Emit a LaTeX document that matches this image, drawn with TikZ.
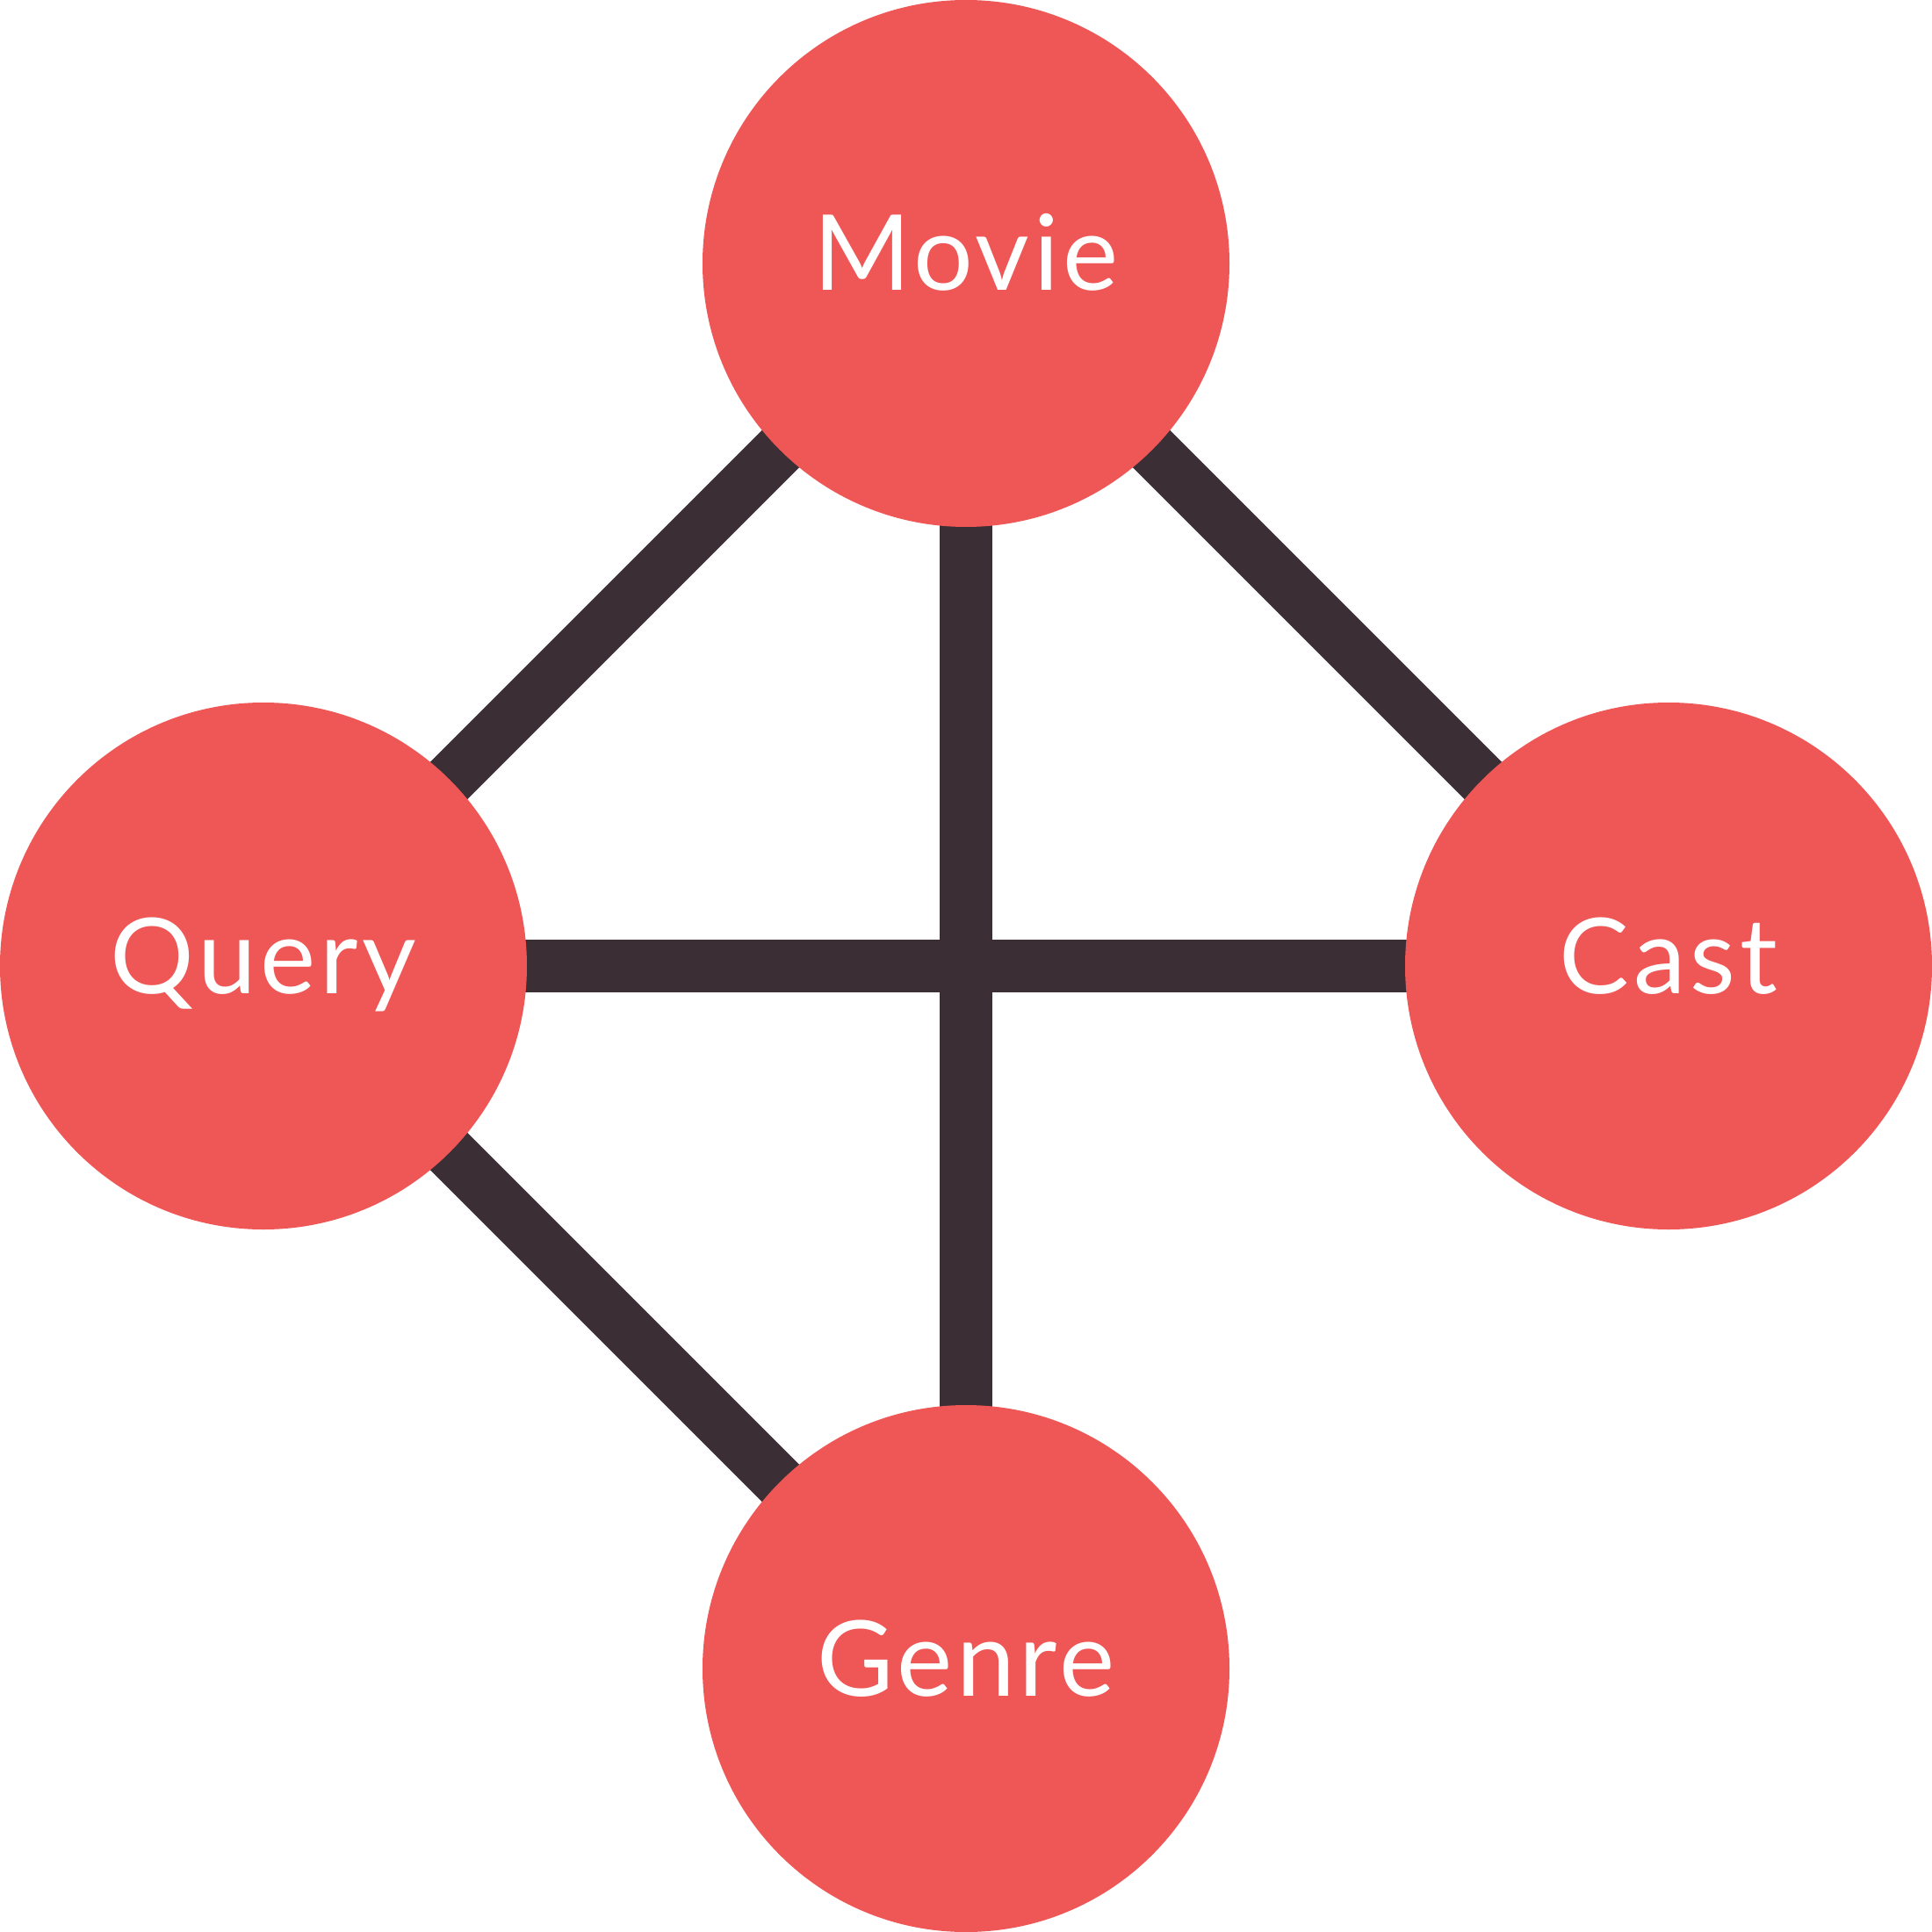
\documentclass[tikz,border=0pt]{standalone}
\usepackage{fontspec}
\setmainfont[LetterSpace=4]{Lato}
\usetikzlibrary{positioning,backgrounds}
\definecolor{nodered}{HTML}{EF5756}
\definecolor{edgedark}{HTML}{3C2E35}
\begin{document}
\begin{tikzpicture}[node distance=8cm and 8cm, on grid]
		\tikzset{
			entity/.style={circle, fill=nodered, text=white, minimum size=6cm, inner sep=0pt,
				text height=0.62cm, text depth=0pt, font=\fontsize{34}{40}\selectfont},
			link/.style={draw=edgedark, line width=0.6cm}
		}
		\useasboundingbox (-11,-19) rectangle (11,3);

		\node(movie)[entity] at (0,0) {Movie};
		\node(query)[entity, below left=of movie] {Query};
		\node(cast)[entity, below right=of movie] {Cast};
		\node(genre)[entity, below right=of query] {Genre};

		% edges go behind the circles
		\begin{scope}[on background layer]
			\draw[link] (movie.center) -- (query.center);
			\draw[link] (movie.center) -- (cast.center);
			\draw[link] (query.center) -- (genre.center);
			\draw[link] (movie.center) -- (genre.center);
			\draw[link] (query.center) -- (cast.center);
		\end{scope}
	\end{tikzpicture}
\end{document}
